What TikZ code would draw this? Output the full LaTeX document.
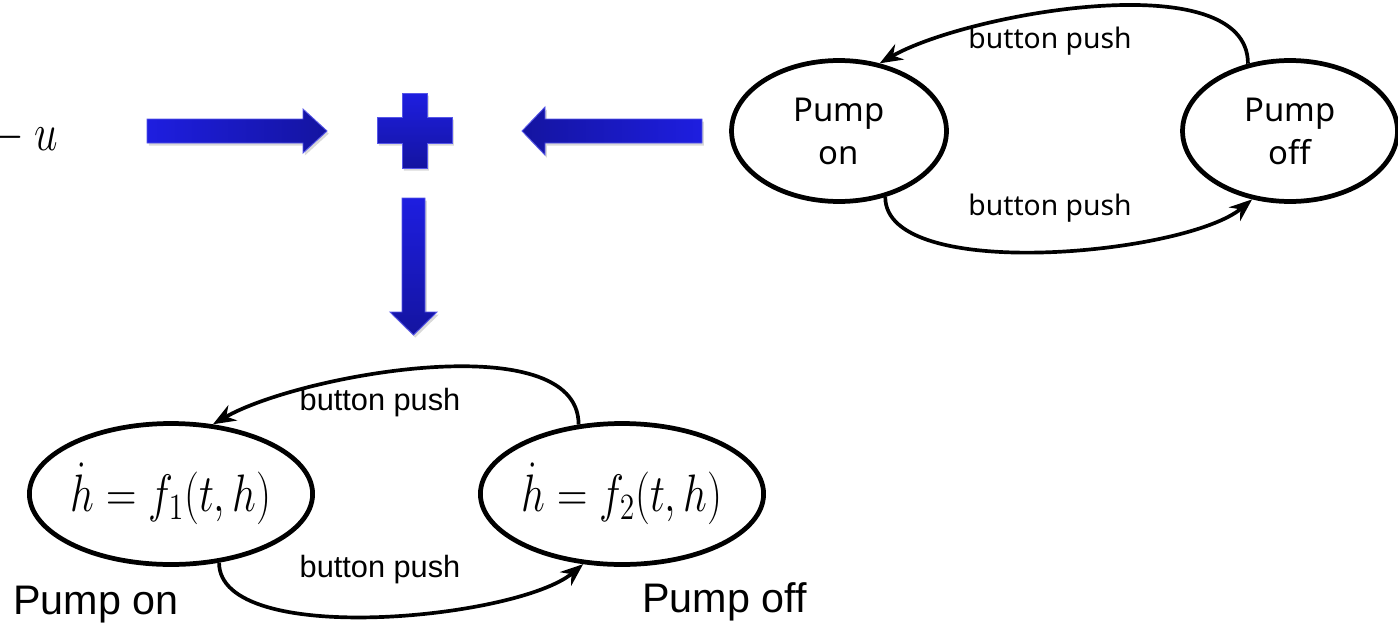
\RequirePackage{fix-cm}
\documentclass[tikz,border=0pt]{standalone}
\usepackage{graphicx}
\usepackage{fontspec}
\usetikzlibrary{shapes.geometric,arrows.meta,shadows}
\newfontfamily\labelfont{Liberation Sans}
\newfontfamily\statefont{Noto Sans}
\definecolor{blocklight}{RGB}{30,30,224}
\definecolor{blockdark}{RGB}{20,20,160}
\newcommand{\tallmath}[1]{\scalebox{1}[1.25]{$#1$}}

\begin{document}
\begin{tikzpicture}[x=0.02cm,y=0.02cm,
    state/.style={ellipse,draw,line width=2.7pt,minimum width=4.3cm,minimum height=2.82cm,inner sep=0pt,align=center},
    trans/.style={line width=2.1pt,-{Stealth[length=13pt,width=10pt]}},
    tag/.style={inner sep=0pt},
    blockarrow/.style={draw=blocklight!75!white,line width=0.5pt,drop shadow={opacity=0.3,shadow xshift=1pt,shadow yshift=-1.5pt}}]
    \useasboundingbox (0,0) rectangle (1398,627);
    % input and the block arrows
    \node[tag,anchor=base east,font=\fontsize{24}{28}\selectfont] (input) at (58,477) {\tallmath{{}-u}};
    \path[blockarrow,left color=blocklight,right color=blockdark] (147,484)--(303,484)--(303,474)--(327,496)--(303,518)--(303,508)--(147,508)--cycle;
    \path[blockarrow,top color=blocklight,bottom color=blockdark] (402,534)--(427,534)--(427,510)--(452,510)--(452,484)--(427,484)--(427,459)--(402,459)--(402,484)--(377,484)--(377,510)--(402,510)--cycle;
    \path[blockarrow,left color=blockdark,right color=blocklight] (702,508)--(545,508)--(545,520)--(522,496)--(545,472)--(545,484)--(702,484)--cycle;
    \path[blockarrow,top color=blocklight,bottom color=blockdark] (402,429)--(425,429)--(425,315)--(437,315)--(413.5,292)--(390,315)--(402,315)--cycle;
    % pump automaton
    \node[state,font=\statefont\fontsize{18.7}{24.4}\selectfont] (on) at (839,496) {Pump\\on};
    \node[state,font=\statefont\fontsize{18.7}{24.4}\selectfont] (off) at (1290,496) {Pump\\off};
    \draw[trans] (off.122) to[out=90,in=30,looseness=0.7] (on.59);
    \draw[trans] (on.-55) to[out=-90,in=220,looseness=0.6] (off.241);
    \node[tag,font=\statefont\fontsize{16.1}{19}\selectfont,anchor=base] (pushtop) at (1050,579) {button push};
    \node[tag,font=\statefont\fontsize{16.1}{19}\selectfont,anchor=base] (pushbot) at (1050,412) {button push};
    % hybrid automaton
    \node[state,font=\fontsize{24}{28}\selectfont] (onode) at (171,133) {\tallmath{\dot h = f_1(t,h)}};
    \node[state,font=\fontsize{24}{28}\selectfont] (offode) at (622,133) {\tallmath{\dot h = f_2(t,h)}};
    \draw[trans] (offode.122) to[out=90,in=30,looseness=0.7] (onode.59);
    \draw[trans] (onode.-55) to[out=-90,in=220,looseness=0.6] (offode.241);
    \node[tag,font=\labelfont\fontsize{17.5}{21}\selectfont,anchor=base] (odetop) at (380,217) {button push};
    \node[tag,font=\labelfont\fontsize{17.5}{21}\selectfont,anchor=base] (odebot) at (380,50) {button push};
    \node[tag,font=\labelfont\fontsize{23.5}{28}\selectfont,anchor=base west] (onname) at (13,13) {Pump on};
    \node[tag,font=\labelfont\fontsize{23.5}{28}\selectfont,anchor=base west] (offname) at (642,15) {Pump off};
\end{tikzpicture}
\end{document}
